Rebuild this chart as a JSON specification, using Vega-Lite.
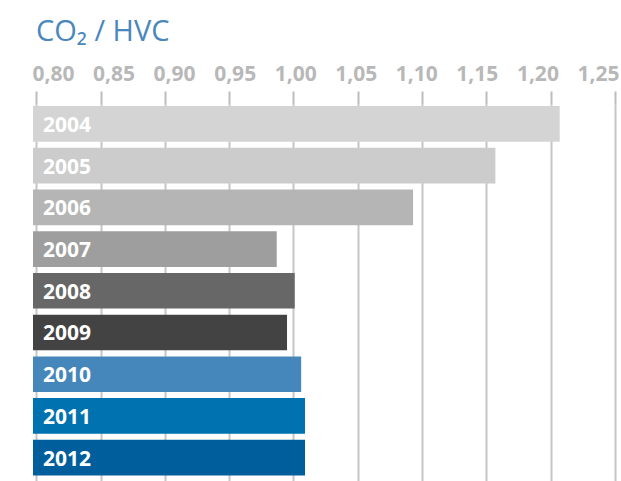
{
  "$schema": "https://vega.github.io/schema/vega-lite/v6.json",
  "width": 582,
  "height": 377,
  "autosize": "none",
  "padding": {"left": 33, "top": 104, "right": 6, "bottom": 0},
  "background": "white",
  "config": {"view": {"stroke": null}},
  "title": {
    "text": "CO₂ / HVC",
    "anchor": "start",
    "font": "Open Sans",
    "fontSize": 29,
    "fontWeight": "normal",
    "color": "#4a87bd",
    "dx": 4,
    "offset": 16
  },
  "data": {
    "values": [
      {"year": "2004", "value": 1.207},
      {"year": "2005", "value": 1.157},
      {"year": "2006", "value": 1.093},
      {"year": "2007", "value": 0.987},
      {"year": "2008", "value": 1.001},
      {"year": "2009", "value": 0.995},
      {"year": "2010", "value": 1.006},
      {"year": "2011", "value": 1.009},
      {"year": "2012", "value": 1.009}
    ]
  },
  "encoding": {
    "y": {
      "field": "year",
      "type": "nominal",
      "axis": null,
      "scale": {"paddingInner": 0.145, "paddingOuter": 0.09, "align": 0.27}
    }
  },
  "layer": [
    {
      "mark": {"type": "bar", "clip": true},
      "encoding": {
        "x": {
          "field": "value",
          "type": "quantitative",
          "scale": {"domain": [0.7975, 1.25], "zero": false, "nice": false},
          "axis": {
            "orient": "top",
            "values": [0.8, 0.85, 0.9, 0.95, 1.0, 1.05, 1.1, 1.15, 1.2, 1.25],
            "labels": false,
            "domain": false,
            "grid": true,
            "gridColor": "#c6c6c6",
            "gridWidth": 2,
            "ticks": true,
            "tickColor": "#bcbcbc",
            "tickWidth": 2,
            "tickSize": 13,
            "title": null
          }
        },
        "color": {
          "field": "year",
          "type": "nominal",
          "legend": null,
          "scale": {
            "domain": ["2004", "2005", "2006", "2007", "2008", "2009", "2010", "2011", "2012"],
            "range": ["#d3d4d3", "#cbcccb", "#b4b5b4", "#9d9e9d", "#666766", "#424342", "#4587ba", "#0072b0", "#005e9d"]
          }
        }
      }
    },
    {
      "mark": {
        "type": "text",
        "align": "left",
        "baseline": "middle",
        "dx": 10,
        "dy": 2,
        "color": "white",
        "font": "Open Sans",
        "fontWeight": "bold",
        "fontSize": 21
      },
      "encoding": {
        "x": {
          "datum": 0.7835,
          "type": "quantitative",
          "scale": {"domain": [0.7835, 1.2641], "zero": false, "nice": false},
          "axis": {
            "orient": "top",
            "offset": 12,
            "values": [0.8, 0.85, 0.9, 0.95, 1.0, 1.05, 1.1, 1.15, 1.2, 1.25],
            "labelExpr": "replace(format(datum.value, '.2f'), '.', ',')",
            "labelFont": "Open Sans",
            "labelFontWeight": "bold",
            "labelFontSize": 21,
            "labelColor": "#b8b8b8",
            "labelPadding": 8,
            "labelOverlap": false,
            "labelFlush": false,
            "ticks": false,
            "domain": false,
            "grid": false,
            "title": null
          }
        },
        "text": {"field": "year"}
      }
    }
  ],
  "resolve": {"scale": {"x": "independent"}, "axis": {"x": "independent"}}
}
